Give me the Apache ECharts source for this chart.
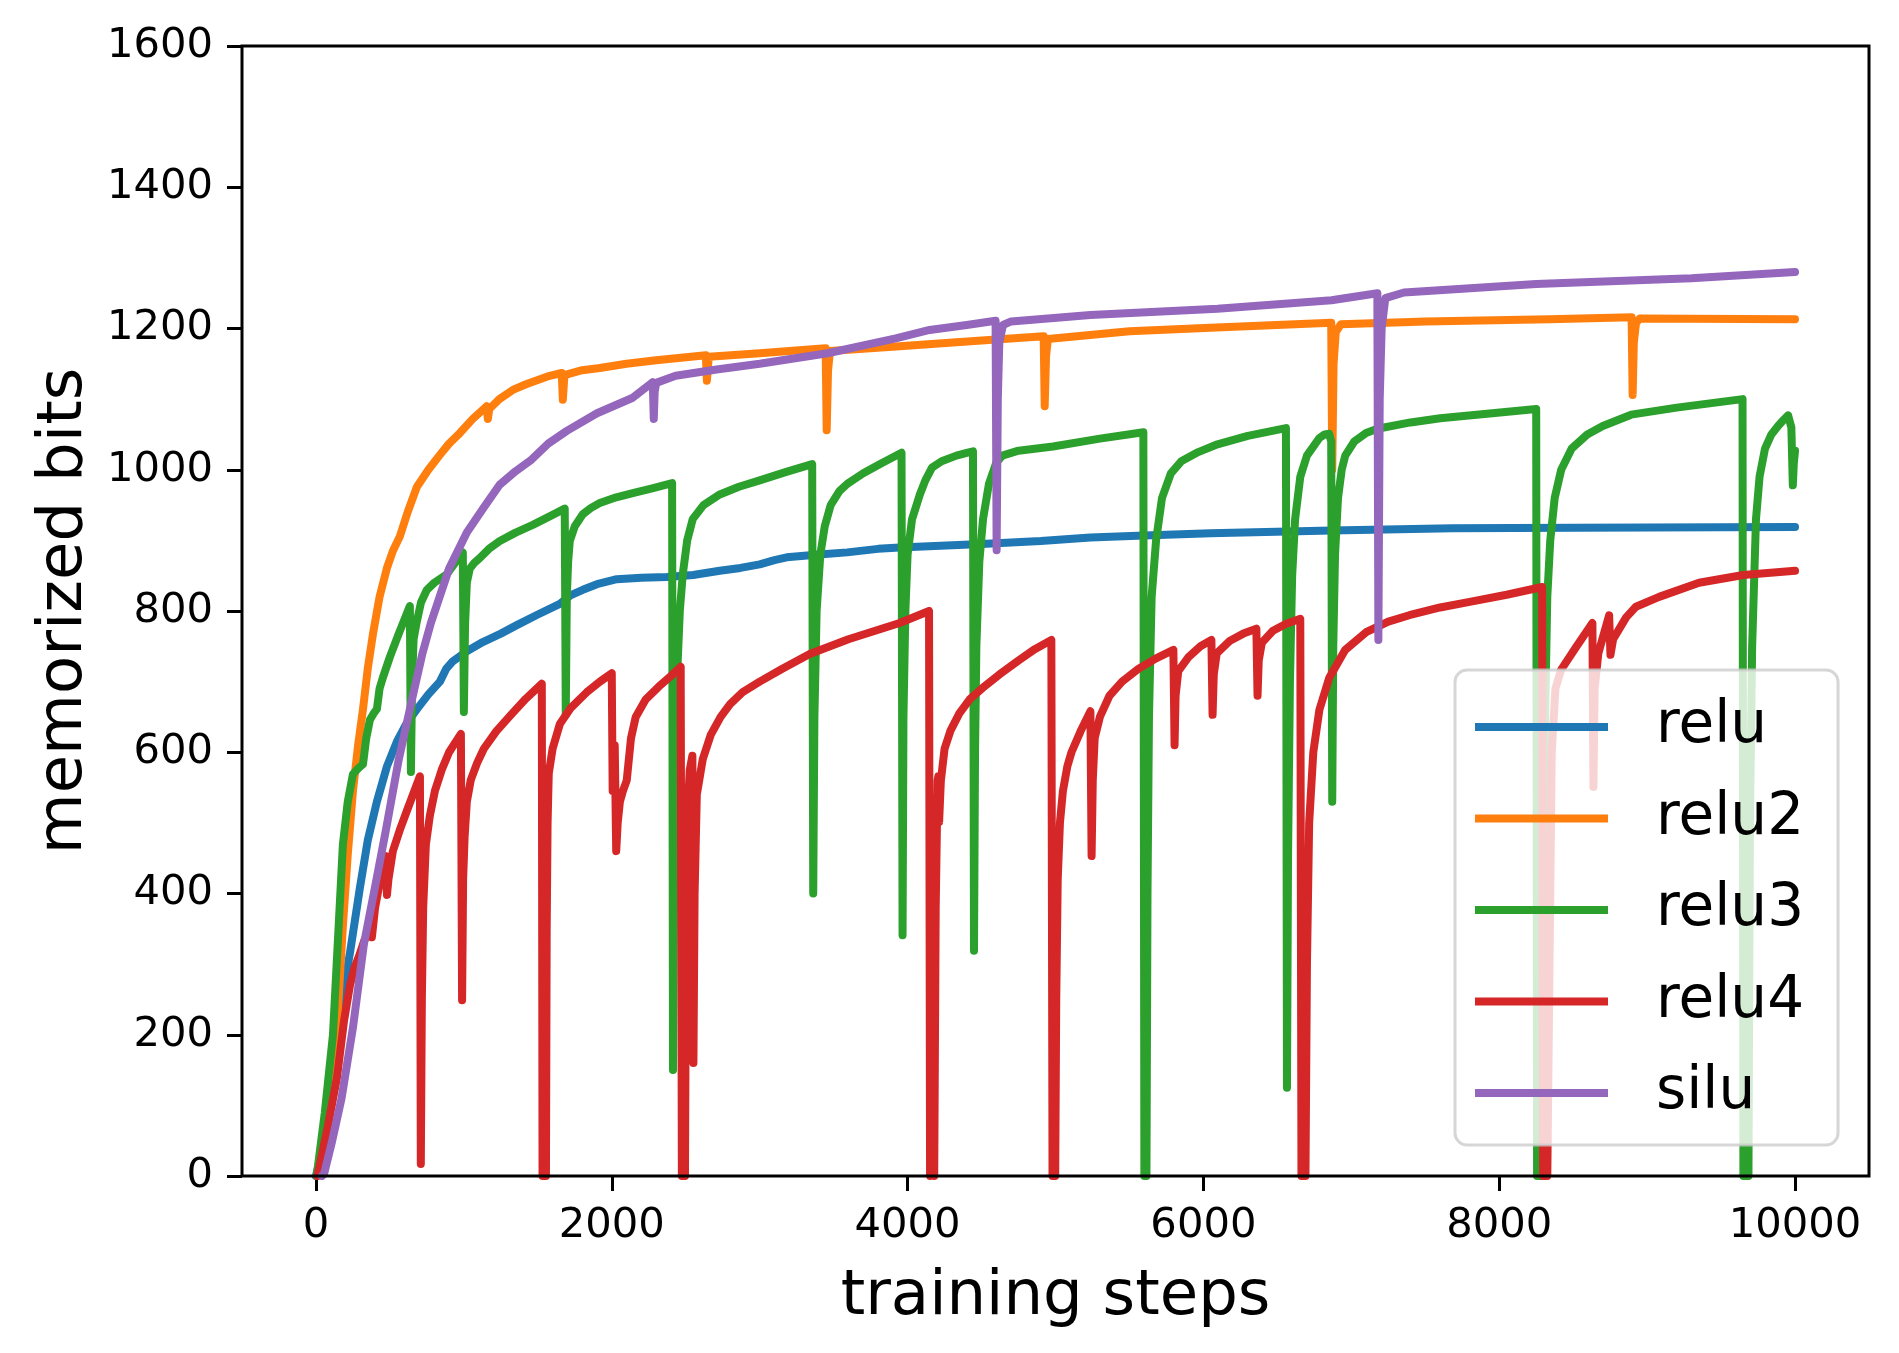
<!DOCTYPE html>
<html>
<head>
<meta charset="utf-8">
<script src="https://cdn.jsdelivr.net/npm/echarts@6/dist/echarts.min.js"></script>
<style>
html,body{margin:0;padding:0;background:#fff;}
#c{width:1899px;height:1353px;}
</style>
</head>
<body>
<div id="c"></div>
<script>
const seriesNames = ['relu', 'relu2', 'relu3', 'relu4', 'silu'];
const xTickValues = [0, 2000, 4000, 6000, 8000, 10000];

const reluData = [[0,0],[27,24],[70,80],[120,170],[175,250],[230,316],[297,408],[350,475],[412,530],[480,580],[547,615],[610,640],[683,661],[760,682],[838,700],[880,718],[926,729],[1020,743],[1128,756],[1250,768],[1358,780],[1500,795],[1649,810],[1720,822],[1804,830],[1900,838],[2034,845],[2200,847],[2372,848],[2550,851],[2730,857],[2870,861],[3000,866],[3100,872],[3183,876],[3400,880],[3592,883],[3800,888],[3946,890],[4500,895],[4900,899],[5236,904],[5600,907],[6047,910],[6866,914],[7684,917],[8502,918],[10000,919]];

const relu2Data = [[10,0],[60,40],[115,123],[150,240],[182,354],[215,455],[250,545],[285,610],[318,661],[350,718],[385,767],[430,820],[480,861],[520,885],[568,906],[620,940],[683,976],[760,1000],[838,1021],[900,1037],[973,1052],[1060,1072],[1155,1090],[1162,1072],[1172,1086],[1240,1100],[1331,1113],[1420,1121],[1500,1127],[1580,1133],[1662,1137],[1669,1099],[1680,1134],[1800,1141],[1919,1144],[2100,1150],[2300,1155],[2636,1162],[2643,1126],[2656,1160],[3000,1165],[3446,1172],[3453,1056],[3462,1140],[3475,1168],[3946,1175],[4500,1183],[4920,1189],[4927,1090],[4936,1160],[4948,1185],[5500,1196],[6047,1201],[6864,1208],[6871,1000],[6880,1150],[6895,1195],[6930,1206],[7500,1210],[8340,1213],[8895,1216],[8902,1106],[8910,1180],[8925,1208],[8950,1214],[10000,1213]];

const relu3Data = [[5,0],[60,90],[115,200],[150,340],[182,469],[215,530],[250,569],[290,578],[318,583],[340,620],[365,646],[390,655],[412,661],[430,690],[453,706],[500,735],[560,768],[635,807],[642,572],[650,700],[660,760],[680,783],[710,812],[750,830],[800,840],[885,852],[940,868],[993,883],[1000,657],[1008,780],[1020,840],[1040,860],[1070,868],[1108,875],[1170,888],[1243,899],[1350,911],[1466,922],[1580,934],[1682,945],[1689,653],[1696,820],[1705,870],[1716,899],[1750,920],[1804,937],[1860,946],[1919,953],[2030,961],[2142,967],[2280,974],[2408,981],[2414,150],[2425,550],[2440,700],[2460,800],[2480,852],[2510,900],[2547,930],[2620,950],[2730,965],[2860,976],[3000,985],[3180,997],[3355,1008],[3362,400],[3370,650],[3385,800],[3410,880],[3440,920],[3480,950],[3540,970],[3592,980],[3700,995],[3830,1010],[3959,1024],[3966,341],[3972,650],[3985,800],[4000,880],[4030,930],[4083,965],[4120,985],[4165,1003],[4230,1012],[4330,1020],[4400,1024],[4442,1026],[4449,319],[4456,600],[4465,750],[4485,870],[4510,930],[4550,980],[4600,1010],[4640,1020],[4750,1027],[4983,1033],[5300,1044],[5594,1053],[5601,0],[5615,0],[5622,400],[5632,650],[5650,820],[5680,900],[5720,960],[5780,995],[5850,1012],[5965,1025],[6095,1036],[6300,1048],[6558,1059],[6565,125],[6572,450],[6585,700],[6600,850],[6620,930],[6655,990],[6700,1020],[6784,1045],[6820,1050],[6850,1051],[6864,1040],[6871,530],[6878,750],[6890,880],[6910,960],[6935,1000],[6959,1020],[7020,1040],[7100,1052],[7176,1058],[7400,1067],[7601,1073],[7900,1079],[8250,1086],[8256,0],[8290,0],[8298,400],[8310,650],[8325,820],[8345,900],[8375,960],[8419,1000],[8490,1030],[8595,1050],[8700,1062],[8892,1078],[9200,1088],[9645,1100],[9651,0],[9685,0],[9695,500],[9710,750],[9736,930],[9760,990],[9797,1030],[9840,1050],[9885,1062],[9920,1070],[9953,1077],[9965,1075],[9975,1060],[9985,978],[9992,1010],[10000,1027]];

const relu4Data = [[10,0],[80,70],[142,139],[190,220],[230,270],[260,295],[291,311],[330,335],[372,350],[378,338],[400,380],[440,425],[473,453],[480,398],[490,420],[520,460],[567,490],[620,520],[703,566],[709,17],[716,250],[725,380],[743,469],[770,510],[804,545],[850,575],[900,600],[980,626],[988,249],[995,420],[1005,480],[1020,530],[1047,561],[1090,585],[1135,605],[1220,630],[1318,653],[1420,676],[1527,697],[1532,0],[1540,40],[1545,0],[1550,230],[1555,0],[1560,350],[1566,500],[1574,570],[1600,605],[1649,640],[1720,662],[1831,685],[1920,700],[2000,712],[2006,545],[2012,600],[2020,610],[2030,460],[2040,500],[2055,530],[2075,545],[2101,560],[2130,620],[2162,650],[2230,675],[2318,693],[2400,708],[2466,721],[2474,0],[2480,300],[2485,84],[2490,500],[2495,0],[2502,350],[2510,500],[2527,575],[2545,595],[2552,160],[2560,400],[2575,540],[2615,590],[2670,625],[2736,650],[2800,668],[2885,685],[3000,700],[3150,718],[3338,739],[3600,760],[3946,783],[4145,800],[4152,0],[4165,0],[4172,300],[4180,0],[4190,380],[4203,560],[4208,566],[4213,501],[4225,560],[4250,605],[4291,631],[4350,655],[4420,675],[4507,691],[4620,710],[4750,730],[4860,746],[4972,759],[4980,0],[4998,0],[5005,250],[5015,420],[5030,500],[5050,545],[5080,580],[5108,600],[5170,630],[5236,658],[5244,453],[5252,560],[5265,620],[5300,650],[5365,680],[5450,700],[5560,718],[5680,733],[5797,745],[5805,610],[5812,680],[5830,715],[5900,735],[5980,750],[6054,759],[6062,653],[6070,710],[6090,740],[6180,758],[6270,768],[6358,775],[6366,680],[6374,730],[6395,755],[6470,772],[6560,782],[6655,789],[6663,0],[6690,0],[6700,300],[6715,500],[6743,600],[6784,660],[6850,705],[6959,745],[7100,770],[7250,785],[7392,794],[7600,805],[7800,813],[8050,823],[8290,834],[8297,0],[8325,0],[8340,300],[8355,600],[8380,690],[8419,717],[8520,749],[8630,783],[8637,551],[8645,690],[8670,740],[8743,794],[8752,738],[8770,760],[8858,791],[8924,806],[9081,820],[9351,840],[9650,851],[10000,857]];

const siluData = [[40,0],[55,3],[110,50],[173,110],[250,210],[324,328],[400,410],[473,490],[560,590],[655,680],[720,740],[777,783],[900,860],[1020,911],[1130,945],[1243,979],[1350,998],[1450,1013],[1570,1037],[1696,1055],[1900,1080],[2142,1102],[2277,1124],[2284,1072],[2290,1110],[2300,1123],[2432,1133],[2709,1142],[3000,1150],[3459,1165],[3920,1186],[4149,1198],[4400,1205],[4595,1211],[4602,886],[4610,1100],[4620,1180],[4645,1205],[4700,1210],[5236,1219],[6095,1228],[6866,1240],[7176,1250],[7183,759],[7192,1100],[7205,1200],[7230,1243],[7356,1251],[8250,1263],[9300,1271],[10000,1280]];

const allData = [reluData, relu2Data, relu3Data, relu4Data, siluData];
const colors = ['#1f77b4', '#ff7f0e', '#2ca02c', '#d62728', '#9467bd'];
const FONT = 'DejaVu Sans';

// plot frame: data range -500..10500 spans 242..1869 px
const X_MIN = -500, X_MAX = 10500, G_LEFT = 242, G_RIGHT = 30, W = 1899;
const pxPerStep = (W - G_LEFT - G_RIGHT) / (X_MAX - X_MIN);
const tickGridLeft = G_LEFT + (xTickValues[0] - X_MIN) * pxPerStep;
const tickGridRight = G_RIGHT + (X_MAX - xTickValues[xTickValues.length - 1]) * pxPerStep;

const chart = echarts.init(document.getElementById('c'), null, {renderer: 'canvas'});
chart.setOption({
  animation: false,
  backgroundColor: '#ffffff',
  grid: [
    {left: G_LEFT, right: G_RIGHT, top: 46, bottom: 177, show: true, borderColor: '#000', borderWidth: 3, backgroundColor: 'transparent', z: 10},
    {left: tickGridLeft, right: tickGridRight, top: 46, bottom: 177, show: false}
  ],
  xAxis: [{
    type: 'value', min: X_MIN, max: X_MAX, gridIndex: 0,
    name: 'training steps', nameLocation: 'middle', nameGap: 90,
    nameTextStyle: {fontFamily: FONT, fontSize: 62.5, color: '#000'},
    axisLine: {show: false, onZero: false},
    axisTick: {show: false},
    axisLabel: {show: false},
    splitLine: {show: false}
  }, {
    type: 'value', min: xTickValues[0], max: xTickValues[xTickValues.length - 1], interval: 2000, gridIndex: 1,
    axisLine: {show: false, onZero: false},
    axisTick: {show: true, length: 15, inside: false, lineStyle: {color: '#000', width: 3}},
    axisLabel: {fontFamily: FONT, fontSize: 41.7, color: '#000', margin: 29, formatter: v => String(v)},
    splitLine: {show: false}
  }],
  yAxis: [{
    type: 'value', min: 0, max: 1600, interval: 200, gridIndex: 0,
    name: 'memorized bits', nameLocation: 'middle', nameGap: 144,
    nameTextStyle: {fontFamily: FONT, fontSize: 62.5, color: '#000'},
    axisLine: {show: false, onZero: false},
    axisTick: {show: true, length: 15, lineStyle: {color: '#000', width: 3}},
    axisLabel: {fontFamily: FONT, fontSize: 41.7, color: '#000', margin: 29, formatter: v => String(v)},
    splitLine: {show: false}
  }, {
    type: 'value', min: 0, max: 1600, gridIndex: 1, show: false
  }],
  legend: {
    orient: 'vertical', left: 1455, top: 670,
    data: seriesNames,
    icon: 'rect', itemWidth: 133, itemHeight: 8, itemGap: 33.5,
    padding: [28, 34, 23, 20],
    backgroundColor: 'rgba(255,255,255,0.8)',
    borderColor: 'rgba(204,204,204,0.8)', borderWidth: 3, borderRadius: 12,
    textStyle: {fontFamily: FONT, fontSize: 58, color: '#000', lineHeight: 58, padding: [0, 0, 0, 43]}
  },
  series: seriesNames.map((n, i) => ({
    name: n, type: 'line', data: allData[i], showSymbol: false, symbol: 'none',
    xAxisIndex: 0, yAxisIndex: 0,
    color: colors[i],
    lineStyle: {width: 8, color: colors[i], cap: 'round', join: 'round'},
    clip: true, z: 2 + i * 0.01
  }))
});
</script>
</body>
</html>
